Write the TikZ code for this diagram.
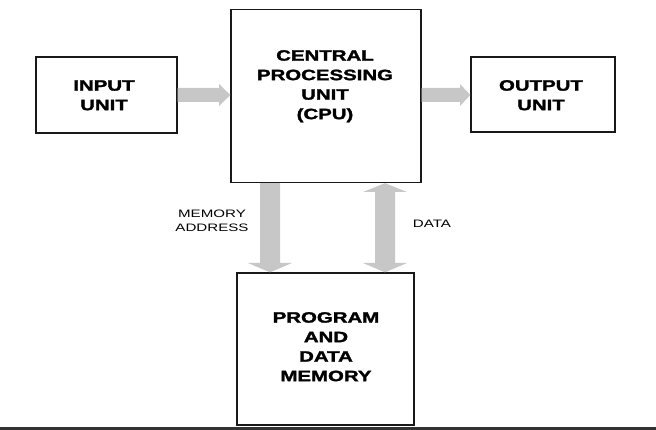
\documentclass[tikz,border=0pt]{standalone}
\usepackage{fontspec}
\setmainfont{Liberation Sans}[BoldFeatures={FakeBold=1.6}]
\usepackage{graphicx}
\newcommand{\wtext}[2]{\scalebox{#1}[1]{\begin{tabular}{@{}c@{}}#2\end{tabular}}}
\begin{document}
\begin{tikzpicture}[x=1pt,y=-1pt,
  box/.style={draw=black!90, line width=1.3pt, rectangle, inner sep=0pt},
  lbl/.style={inner sep=0pt, font=\fontsize{15}{19.5}\selectfont\bfseries},
  small/.style={inner sep=0pt, font=\fontsize{10.8}{14}\selectfont},
  fat/.style={fill=black!22, draw=none}]
\useasboundingbox (0,0) rectangle (656,430);
% boxes
\node[box, minimum width=141pt, minimum height=76pt] (in) at (106.5,95) {};
\node[box, minimum width=190pt, minimum height=173pt] (cpu) at (326,96) {};
\node[box, minimum width=144pt, minimum height=75pt] (out) at (543,94.5) {};
\node[box, minimum width=177pt, minimum height=152pt] (mem) at (325.5,349) {};
% texts
\node[lbl] (tin) at (104,96.5) {\wtext{1.36}{INPUT\\UNIT}};
\node[lbl] (tcpu) at (325,86) {\wtext{1.36}{CENTRAL\\PROCESSING\\UNIT\\(CPU)}};
\node[lbl] (tout) at (541,96.5) {\wtext{1.36}{OUTPUT\\UNIT}};
\node[lbl] (tmem) at (326,348) {\wtext{1.36}{PROGRAM\\AND\\DATA\\MEMORY}};
\node[small] (tma) at (212,222) {\wtext{1.4}{MEMORY\\ADDRESS}};
\node[small] (tdata) at (432,224.5) {\wtext{1.4}{DATA}};
% arrows
\fill[fat] (in.east|-0,88) -- (219,88) -- (219,84) -- (cpu.west|-0,95) -- (219,106) -- (219,102) -- (in.east|-0,102) -- cycle;
\fill[fat] (cpu.east|-0,88) -- (460,88) -- (460,84) -- (out.west|-0,95) -- (460,106) -- (460,102) -- (cpu.east|-0,102) -- cycle;
\fill[fat] (260,0|-cpu.south) -- (260,263) -- (248,263) -- (270,0|-mem.north) -- (292,263) -- (280,263) -- (280,0|-cpu.south) -- cycle;
\fill[fat] (385,0|-cpu.south) -- (407,192) -- (395,192) -- (395,263) -- (407,263) -- (385,0|-mem.north) -- (363,263) -- (375,263) -- (375,192) -- (363,192) -- cycle;
% bottom rule
\fill[black!80] (0,427) rectangle (656,430);
\end{tikzpicture}
\end{document}
